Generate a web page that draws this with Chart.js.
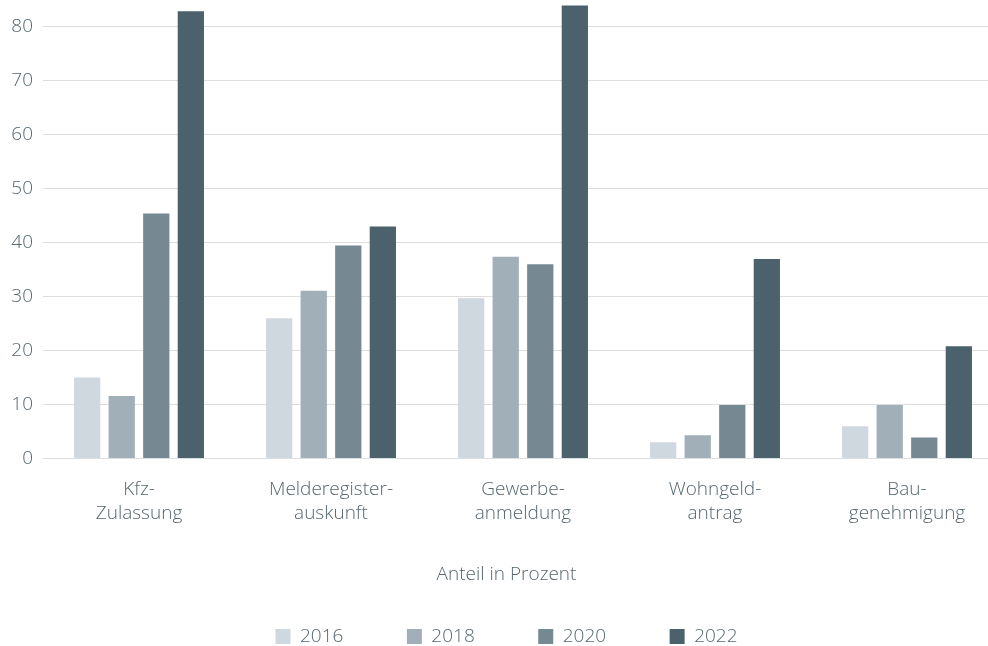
<!DOCTYPE html>
<html>
<head>
<meta charset="utf-8">
<script src="https://cdn.jsdelivr.net/npm/chart.js@4.4.0/dist/chart.umd.min.js"></script>
<style>
  html, body { margin: 0; padding: 0; background: #fff; overflow: hidden; }
  .leftGr { width: 988px; height: 646px; overflow: hidden; }
</style>
</head>
<body>
<div class="leftGr"></div>
<script>
// data
const categories = [['Kfz-', 'Zulassung'], ['Melderegister-', 'auskunft'], ['Gewerbe-', 'anmeldung'], ['Wohngeld-', 'antrag'], ['Bau-', 'genehmigung']];
const years = ['2016', '2018', '2020', '2022'];
const values2016 = [15.0, 26.0, 29.7, 3.0, 6.0];
const values2018 = [11.6, 31.1, 37.4, 4.3, 9.9];
const values2020 = [45.4, 39.5, 36.0, 9.9, 3.9];
const values2022 = [82.9, 43.0, 84.0, 37.0, 20.8];
const yTicks = [0, 10, 20, 30, 40, 50, 60, 70, 80];
const axisTitle = 'Anteil in Prozent';

const colors = ['#d0d8df', '#a1afb8', '#768892', '#4b616c'];
const colorText = '#56676f';

function buidGraf(){
  let place = document.getElementsByClassName('leftGr')[0];
  create_canv(place);
}

function create_canv(place){
  let canvas = document.createElement('canvas');
  canvas.className = 'canvasBlock';
  canvas.width = 1003;
  canvas.height = 656;
  place.append(canvas);
  create_graph(canvas);
}

function create_graph(canvas){
  let fam = "'Open Sans', sans-serif";
  let series = [values2016, values2018, values2020, values2022];
  new Chart(canvas, {
    type: 'bar',
    data: {
      labels: categories,
      datasets: series.map((vals, i) => ({
        label: years[i],
        data: vals,
        backgroundColor: colors[i],
        borderWidth: 0,
        categoryPercentage: 0.72,
        barPercentage: 0.76,
      }))
    },
    options: {
      responsive: false,
      animation: false,
      layout: { padding: { left: 10, top: -1, right: 0, bottom: 0 } },
      plugins: {
        tooltip: { enabled: false },
        legend: {
          position: 'bottom',
          labels: {
            color: colorText,
            font: { family: fam, size: 19, weight: 350 },
            boxWidth: 15,
            boxHeight: 15,
            padding: 63.5,
          },
          title: {
            display: true,
            text: axisTitle,
            color: colorText,
            font: { family: fam, size: 19, weight: 350, lineHeight: 1.2 },
            padding: { top: 42, bottom: -24.3 },
          }
        }
      },
      scales: {
        y: {
          min: 0,
          max: 85,
          ticks: {
            color: colorText,
            font: { family: fam, size: 19, weight: 350 },
            padding: 10,
            stepSize: 10,
            includeBounds: false,
          },
          afterBuildTicks: (axis) => {
            axis.ticks = yTicks.map((v) => ({ value: v }));
          },
          afterFit: (axis) => {
            axis.width = 33;
            axis.paddingTop = 0;
            axis.paddingBottom = 0;
          },
          grid: { color: '#dedede', lineWidth: 1, drawTicks: false },
          border: { display: false },
        },
        x: {
          ticks: {
            color: colorText,
            font: { family: fam, size: 19, weight: 350, lineHeight: 1.25 },
            padding: 19,
            maxRotation: 0,
          },
          afterFit: (axis) => {
            axis.height = 64.5;
          },
          grid: { display: false, drawTicks: false },
          border: { display: false },
        }
      }
    }
  });
}

buidGraf();
</script>
</body>
</html>
